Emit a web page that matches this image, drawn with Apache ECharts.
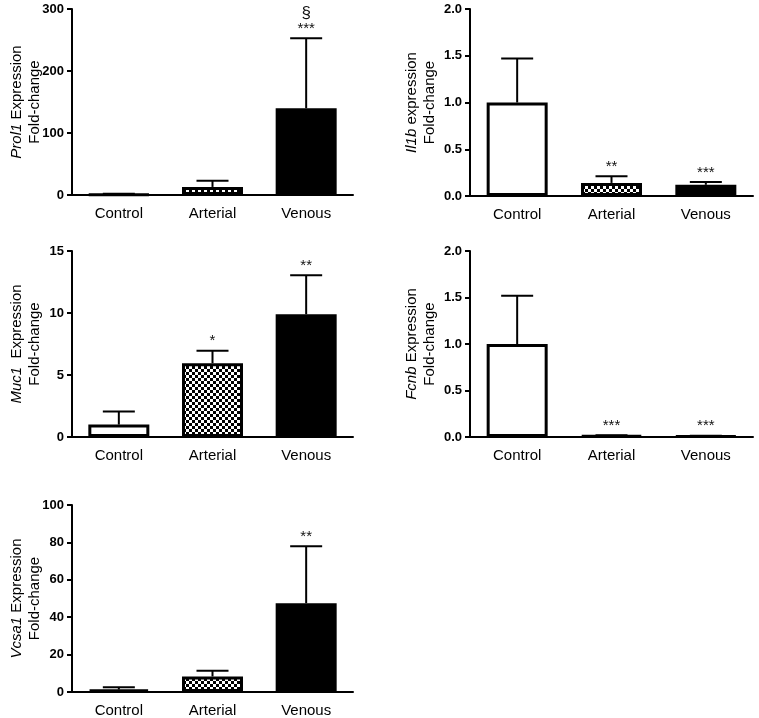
<!DOCTYPE html>
<html><head><meta charset="utf-8">
<script src="https://cdn.jsdelivr.net/npm/echarts@6/dist/echarts.min.js"></script>
<style>html,body{margin:0;padding:0;background:#fff}#c{width:759px;height:718px}</style>
</head><body><div id="c"></div>
<script>
const categories = ['Control', 'Arterial', 'Venous'];

const prol1Mean = [1.2, 13, 140];
const prol1Sem = [1.0, 10, 113];
const prol1Stars = ['', '', '***'];
const prol1Extra = ['', '', '§'];

const il1bMean = [1.0, 0.14, 0.12];
const il1bSem = [0.47, 0.07, 0.03];
const il1bStars = ['', '**', '***'];

const muc1Mean = [1.0, 5.95, 9.9];
const muc1Sem = [1.05, 1.0, 3.15];
const muc1Stars = ['', '*', '**'];

const fcnbMean = [1.0, 0.015, 0.01];
const fcnbSem = [0.52, 0.003, 0.003];
const fcnbStars = ['', '***', '***'];

const vcsa1Mean = [1.3, 8.3, 47.5];
const vcsa1Sem = [1.2, 3.0, 30.5];
const vcsa1Stars = ['', '', '**'];

const prol1Ticks = [0, 300, 100];
const il1bTicks = [0, 2, 0.5];
const muc1Ticks = [0, 15, 5];
const fcnbTicks = [0, 2, 0.5];
const vcsa1Ticks = [0, 100, 20];

// checkerboard pattern
const pc = document.createElement('canvas');
pc.width = 6; pc.height = 6;
const g = pc.getContext('2d');
g.fillStyle = '#fff'; g.fillRect(0, 0, 6, 6);
g.fillStyle = '#000'; g.fillRect(0, 0, 3, 3); g.fillRect(3, 3, 3, 3);
const fills = ['#ffffff', { image: pc, repeat: 'repeat' }, '#000000'];

const FONT = 'Arial, "Liberation Sans", sans-serif';

const panels = [
  { gene: 'Prol1', rest: ' Expression', mean: prol1Mean, sem: prol1Sem, stars: prol1Stars, extra: prol1Extra, ticks: prol1Ticks, dec: 0,
    gap: 28, grid: { left: 72, top: 9, width: 281, height: 186 } },
  { gene: 'Il1b', rest: ' expression', mean: il1bMean, sem: il1bSem, stars: il1bStars, ticks: il1bTicks, dec: 1,
    gap: 31, grid: { left: 470, top: 9, width: 283, height: 187 } },
  { gene: 'Muc1', rest: '  Expression', mean: muc1Mean, sem: muc1Sem, stars: muc1Stars, ticks: muc1Ticks, dec: 0,
    gap: 28, grid: { left: 72, top: 251, width: 281, height: 186 } },
  { gene: 'Fcnb', rest: ' Expression', mean: fcnbMean, sem: fcnbSem, stars: fcnbStars, ticks: fcnbTicks, dec: 1,
    gap: 31, grid: { left: 470, top: 251, width: 283, height: 186 } },
  { gene: 'Vcsa1', rest: ' Expression', mean: vcsa1Mean, sem: vcsa1Sem, stars: vcsa1Stars, ticks: vcsa1Ticks, dec: 0,
    gap: 28, grid: { left: 72, top: 505, width: 281, height: 187 } }
];

const grids = [], xAxes = [], yAxes = [], series = [];
panels.forEach((p, i) => {
  grids.push(Object.assign({ containLabel: false }, p.grid));
  xAxes.push({
    type: 'category', gridIndex: i, data: categories,
    axisLine: { lineStyle: { color: '#000', width: 2 } },
    axisTick: { show: false },
    axisLabel: { color: '#000', fontSize: 15, fontFamily: FONT, margin: 11 }
  });
  yAxes.push({
    type: 'value', gridIndex: i, min: p.ticks[0], max: p.ticks[1], interval: p.ticks[2],
    splitLine: { show: false },
    axisLine: { show: true, lineStyle: { color: '#000', width: 2 } },
    axisTick: { show: true, length: 5, lineStyle: { color: '#000', width: 2 } },
    axisLabel: { color: '#000', fontSize: 13, fontWeight: 'bold', fontFamily: FONT, margin: 8,
      formatter: v => v.toFixed(p.dec) },
    name: '{i|' + p.gene + '}' + p.rest + '\nFold-change',
    nameLocation: 'middle', nameGap: p.gap, nameMoveOverlap: false,
    nameTextStyle: { color: '#000', fontSize: 15, fontFamily: FONT, lineHeight: 18,
      rich: { i: { fontStyle: 'italic', fontSize: 15, fontFamily: FONT, color: '#000', lineHeight: 18 } } }
  });
  series.push({
    type: 'bar', xAxisIndex: i, yAxisIndex: i, barWidth: 61, animation: false,
    data: p.mean.map((v, k) => ({ value: v, itemStyle: { color: fills[k], borderColor: '#000', borderWidth: 3 } })),
    z: 2
  });
  series.push({
    type: 'custom', xAxisIndex: i, yAxisIndex: i, animation: false, z: 3,
    data: p.mean.map((v, k) => [k, v, p.sem[k]]),
    renderItem: (params, api) => {
      const k = api.value(0), m = api.value(1), s = api.value(2);
      const p0 = api.coord([k, m]);
      const p1 = api.coord([k, m + s]);
      const half = 16;
      const ch = [
        { type: 'line', shape: { x1: p0[0], y1: p0[1], x2: p1[0], y2: p1[1] }, style: { stroke: '#000', lineWidth: 2 } },
        { type: 'line', shape: { x1: p1[0] - half, y1: p1[1], x2: p1[0] + half, y2: p1[1] }, style: { stroke: '#000', lineWidth: 2 } }
      ];
      const st = p.stars[params.dataIndex];
      if (st) {
        ch.push({ type: 'text', x: p1[0], y: p1[1] - 2,
          style: { text: st, fill: '#111', font: '15px ' + FONT, align: 'center', verticalAlign: 'bottom', textAlign: 'center', textVerticalAlign: 'bottom' } });
      }
      const ex = p.extra && p.extra[params.dataIndex];
      if (ex) {
        ch.push({ type: 'text', x: p1[0], y: p1[1] - 16,
          style: { text: ex, fill: '#111', font: '17px ' + FONT, align: 'center', verticalAlign: 'bottom', textAlign: 'center', textVerticalAlign: 'bottom' } });
      }
      return { type: 'group', children: ch };
    }
  });
});

const chart = echarts.init(document.getElementById('c'), null, { renderer: 'canvas' });
chart.setOption({ animation: false, backgroundColor: '#fff', grid: grids, xAxis: xAxes, yAxis: yAxes, series: series });
</script>
</body></html>
